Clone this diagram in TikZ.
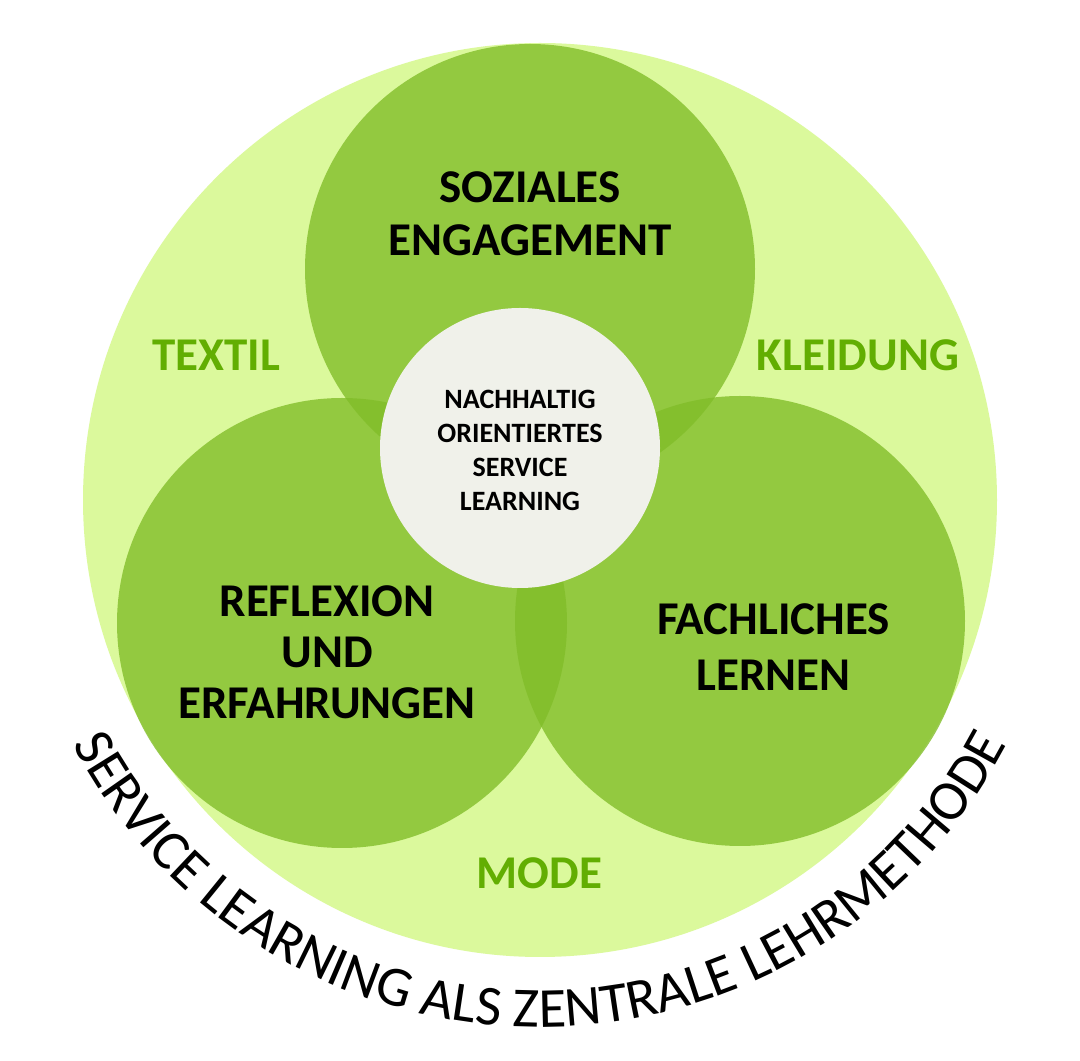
\documentclass[tikz,border=0pt]{standalone}
\usepackage{fontspec}
\setmainfont{Carlito}
\usetikzlibrary{decorations.text,calc}
\definecolor{bgcirc}{HTML}{DBF99C}
\definecolor{midgreen}{HTML}{81BD29}
\definecolor{centerfill}{HTML}{F0F1EA}
\definecolor{labelgreen}{HTML}{62AE02}
\begin{document}
\begin{tikzpicture}[x=1pt,y=1pt,
  bigdisc/.style={circle, inner sep=0pt, minimum size=914pt, fill=bgcirc},
  themedisc/.style={circle, inner sep=0pt, minimum size=450pt, fill=midgreen, fill opacity=0.8},
  coredisc/.style={circle, inner sep=0pt, minimum size=280pt, fill=centerfill},
  themelabel/.style={align=center, inner sep=0pt, text=black},
  fieldlabel/.style={inner sep=0pt, text=labelgreen, font={\bfseries\fontsize{47}{53}\selectfont}},
  corelabel/.style={align=center, inner sep=0pt, text=black, font={\bfseries\fontsize{28}{34}\selectfont}}
]
\useasboundingbox (0,0) rectangle (1080,1061);
\fill[white] (0,0) rectangle (1080,1061);

\node[bigdisc] (big) at (540,561) {};
\node[themedisc] (top) at (530,792) {};
\node[themedisc] (left) at (342,438) {};
\node[themedisc] (right) at (740,440) {};
\node[coredisc] (core) at (520,613) {};

\node[themelabel, font={\bfseries\fontsize{47}{53.3}\selectfont}] (soz) at (530,847.5) {SOZIALES\\ENGAGEMENT};
\node[themelabel, font={\bfseries\fontsize{47}{51}\selectfont}] (refl) at (327,409) {REFLEXION\\UND\\ERFAHRUNGEN};
\node[themelabel, font={\bfseries\fontsize{47}{56}\selectfont}] (fach) at (773.5,413.5) {FACHLICHES\\LERNEN};
\node[corelabel] (coretext) at (520,611) {NACHHALTIG\\ORIENTIERTES\\SERVICE\\LEARNING};

\node[fieldlabel] (textil) at (216,705.5) {TEXTIL};
\node[fieldlabel] (kleid) at (858,705.5) {KLEIDUNG};
\node[fieldlabel] (mode) at (539.5,188) {MODE};

\coordinate (arcc) at (540,561);
\path[decorate, decoration={text along path, text align=center,
  text={|\fontsize{56.5}{60}\selectfont|SERVICE LEARNING ALS ZENTRALE LEHRMETHODE}}]
  ($(arcc)+(200:527)$) arc[start angle=200, end angle=340, radius=527];
\end{tikzpicture}
\end{document}
